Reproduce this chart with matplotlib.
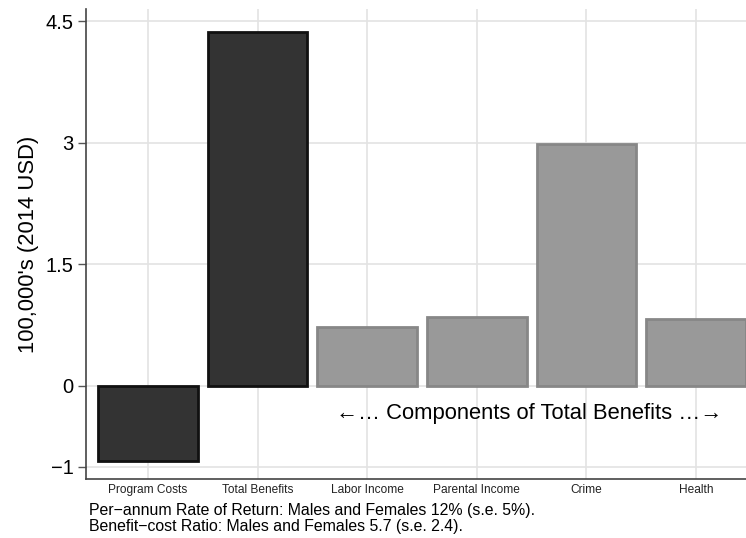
import matplotlib
matplotlib.use("Agg")
import matplotlib.pyplot as plt

plt.rcParams['font.family'] = ['Liberation Sans', 'DejaVu Sans']

categories = ["Program Costs", "Total Benefits", "Labor Income", "Parental Income", "Crime", "Health"]
values = [-0.93, 4.37, 0.72, 0.85, 2.98, 0.83]
dark = [True, True, False, False, False, False]
yticks = [-1, 0, 1.5, 3, 4.5]
yticklabels = ["\u22121", "0", "1.5", "3", "4.5"]

fig = plt.figure(figsize=(7.46, 5.38), dpi=100)
ax = fig.add_axes([86/746, 1 - 479/538, (746 - 86)/746, (479 - 9)/538])

x = list(range(len(categories)))
for xi, v, d in zip(x, values, dark):
    if d:
        ax.bar(xi, v, width=0.91, color="#333333", edgecolor="#111111", linewidth=2, zorder=3)
    else:
        ax.bar(xi, v, width=0.91, color="#999999", edgecolor="#878787", linewidth=2, zorder=3)

ax.set_xlim(-0.565, 5.455)
ax.set_ylim(-1.15, 4.65)
ax.set_yticks(yticks)
ax.set_yticklabels(yticklabels, fontsize=14.5)
ax.set_xticks(x)
ax.set_xticklabels(categories, fontsize=8.6)
ax.tick_params(axis='x', length=0, pad=3.5, colors="#222222")
ax.tick_params(axis='y', length=6, width=1, color="#555555", pad=3)
ax.grid(True, color="#e3e3e3", linewidth=1.2, zorder=0)
ax.set_axisbelow(True)
for s in ["top", "right"]:
    ax.spines[s].set_visible(False)
for s in ["left", "bottom"]:
    ax.spines[s].set_color("#444444")
    ax.spines[s].set_linewidth(1.2)

ax.set_ylabel("100,000's (2014 USD)", fontsize=15.8, labelpad=5)

ax.text(3.48, -0.34, "\u2190\u2026 Components of Total Benefits \u2026\u2192",
        fontsize=15.8, ha="center", va="center", zorder=4)

fig.text(89/746, 1 - 511/538, "Per\u2212annum Rate of Return: Males and Females 12% (s.e. 5%).",
         fontsize=11.4, va="center")
fig.text(89/746, 1 - 527/538, "Benefit\u2212cost Ratio: Males and Females 5.7 (s.e. 2.4).",
         fontsize=11.4, va="center")

fig.savefig("out.png", dpi=100)
